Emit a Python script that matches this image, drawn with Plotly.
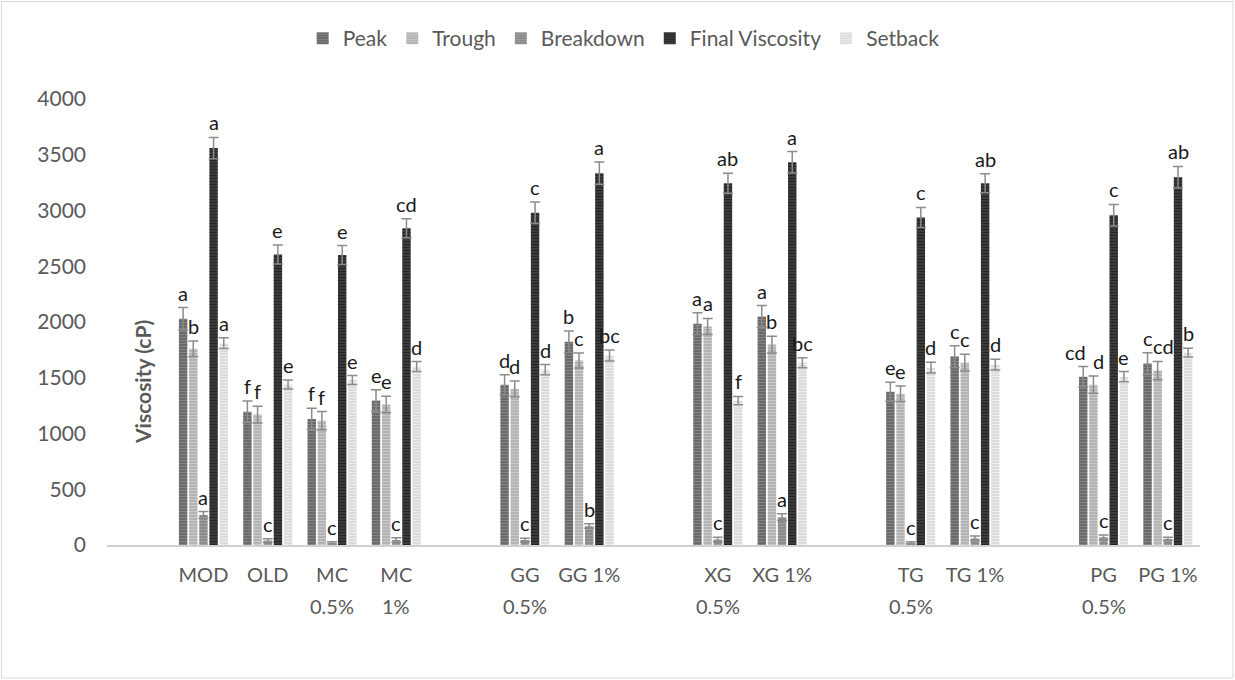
import plotly.graph_objects as go

# Treatments, grouped by hydrocolloid; an empty slot separates the groups.
# Each label is (first line, second line).
groups = [
    [("MOD", ""), ("OLD", ""), ("MC", "0.5%"), ("MC", "1%")],
    [("GG", "0.5%"), ("GG 1%", "")],
    [("XG", "0.5%"), ("XG 1%", "")],
    [("TG", "0.5%"), ("TG 1%", "")],
    [("PG", "0.5%"), ("PG 1%", "")],
]

series_names = ["Peak", "Trough", "Breakdown", "Final Viscosity", "Setback"]

peak = [2030, 1195, 1130, 1295, 1438, 1823, 1985, 2050, 1375, 1690, 1510, 1627]
peak_err = [100, 97, 97, 97, 90, 97, 97, 97, 85, 97, 90, 97]
peak_sig = ["a", "f", "f", "e", "d", "b", "a", "a", "e", "c", "cd", "c"]

trough = [1760, 1170, 1115, 1260, 1400, 1655, 1960, 1798, 1357, 1635, 1438, 1564]
trough_err = [70, 75, 82, 75, 70, 67, 72, 75, 70, 75, 78, 82]
trough_sig = ["b", "f", "f", "e", "d", "c", "a", "b", "e", "c", "d", "cd"]

breakdown = [270, 40, 20, 45, 45, 170, 50, 250, 20, 60, 70, 55]
breakdown_err = [30, 15, 10, 20, 15, 20, 20, 30, 10, 20, 20, 15]
breakdown_sig = ["a", "c", "c", "c", "c", "b", "c", "a", "c", "c", "c", "c"]

final_visc = [3560, 2605, 2600, 2840, 2980, 3335, 3245, 3433, 2938, 3245, 2957, 3298]
final_err = [95, 85, 85, 85, 97, 100, 90, 96, 90, 85, 97, 97]
final_sig = ["a", "e", "e", "cd", "c", "a", "ab", "a", "c", "ab", "c", "ab"]

setback = [1810, 1440, 1480, 1600, 1573, 1700, 1295, 1635, 1590, 1617, 1510, 1725]
setback_err = [48, 40, 40, 45, 45, 50, 37, 45, 48, 48, 45, 40]
setback_sig = ["a", "e", "e", "d", "d", "bc", "f", "bc", "d", "d", "e", "b"]

y_ticks = [0, 500, 1000, 1500, 2000, 2500, 3000, 3500, 4000]

values = [peak, trough, breakdown, final_visc, setback]
errors = [peak_err, trough_err, breakdown_err, final_err, setback_err]
letters = [peak_sig, trough_sig, breakdown_sig, final_sig, setback_sig]
fills = ["#6a6a6a", "#b3b3b3", "#8b8b8b", "#3b3b3b", "#dcdcdc"]
stripes = ["#858585", "#c9c9c9", "#a0a0a0", "#262626", "#ececec"]

# sideways nudges (px) for crowded letter pairs: (series, treatment) -> shift
letter_nudge = {(0, 10): -8, (1, 10): 5, (1, 11): 6}

# x positions: slot 0 is blank, and one blank slot between groups
line1, line2, xpos = [], [], []
pos = 1
for g in groups:
    for first, second in g:
        line1.append(first)
        line2.append(second)
        xpos.append(pos)
        pos += 1
    pos += 1
n_slots = xpos[-1] + 1

W, H = 1235, 680
L, R, T, B = 107, 35, 99, 135
BARGAP, GROUPGAP = 0.21, 0.17
plot_w = W - L - R
plot_h = H - T - B
slot_px = plot_w / n_slots * (1 - BARGAP) / len(series_names)

FONT = "Lato, 'Liberation Sans', Arial, sans-serif"
GREY = "#595959"

fig = go.Figure()
for i, name in enumerate(series_names):
    fig.add_trace(go.Bar(
        name=name,
        x=xpos,
        y=values[i],
        marker=dict(
            color=fills[i],
            line=dict(width=0),
            pattern=dict(shape="-", fgcolor=stripes[i], bgcolor=fills[i],
                         size=3, solidity=0.35, fillmode="replace"),
        ),
        error_y=dict(type="data", array=errors[i], visible=True,
                     color="#8c8c8c", thickness=1.5, width=5),
        hoverinfo="x+y+name",
    ))

annotations = []
for i in range(len(series_names)):
    for j, x in enumerate(xpos):
        annotations.append(dict(
            x=x, y=values[i][j] + errors[i][j],
            xref="x", yref="y",
            text=letters[i][j], showarrow=False,
            xanchor="center", yanchor="bottom",
            xshift=(i - 2) * slot_px + letter_nudge.get((i, j), 0), yshift=1,
            font=dict(family=FONT, size=20, color="#1a1a1a"),
        ))

# second line of the wrapped category labels
for x, txt in zip(xpos, line2):
    if txt:
        annotations.append(dict(
            x=x, y=(H - B - 606) / plot_h, xref="x", yref="paper",
            text=txt, showarrow=False, xanchor="center", yanchor="middle",
            font=dict(family=FONT, size=20, color=GREY),
        ))

# axis title sits in the blank first slot, below the axis midpoint
annotations.append(dict(
    x=(142 - L) / plot_w, y=(H - B - 382) / plot_h,
    xref="paper", yref="paper",
    text="<b>Viscosity (cP)</b>", textangle=-90, showarrow=False,
    xanchor="center", yanchor="middle",
    font=dict(family=FONT, size=21, color=GREY),
))

# thin frame round the whole chart area
frame = dict(
    type="rect", xref="paper", yref="paper",
    x0=(1.5 - L) / plot_w, x1=(W - 2 - L) / plot_w,
    y0=(H - B - (H - 2)) / plot_h, y1=(H - B - 1.5) / plot_h,
    line=dict(color="#d9d9d9", width=1), fillcolor="rgba(0,0,0,0)",
    layer="below",
)

fig.update_layout(
    width=W, height=H,
    margin=dict(l=L, r=R, t=T, b=B, autoexpand=False),
    paper_bgcolor="white", plot_bgcolor="white",
    barmode="group", bargap=BARGAP, bargroupgap=GROUPGAP,
    font=dict(family=FONT, color=GREY),
    showlegend=True,
    legend=dict(
        orientation="h", xref="container", yref="container",
        x=0.505, xanchor="center", y=1 - 18 / H, yanchor="top",
        font=dict(family=FONT, size=21, color=GREY),
        itemwidth=30, traceorder="normal",
    ),
    xaxis=dict(
        range=[-0.5, n_slots - 0.5],
        tickmode="array", tickvals=xpos, ticktext=line1,
        showgrid=False, zeroline=False,
        showline=True, linecolor="#d0d0d0", linewidth=2,
        ticks="", tickfont=dict(family=FONT, size=20, color=GREY),
        ticklabelstandoff=11,
    ),
    yaxis=dict(
        range=[0, 4000], tickvals=y_ticks,
        showgrid=False, zeroline=False, showline=False,
        ticks="", tickfont=dict(family=FONT, size=21, color=GREY),
        ticklabelstandoff=20,
    ),
    annotations=annotations,
    shapes=[frame],
)

fig.write_html("out.html")
